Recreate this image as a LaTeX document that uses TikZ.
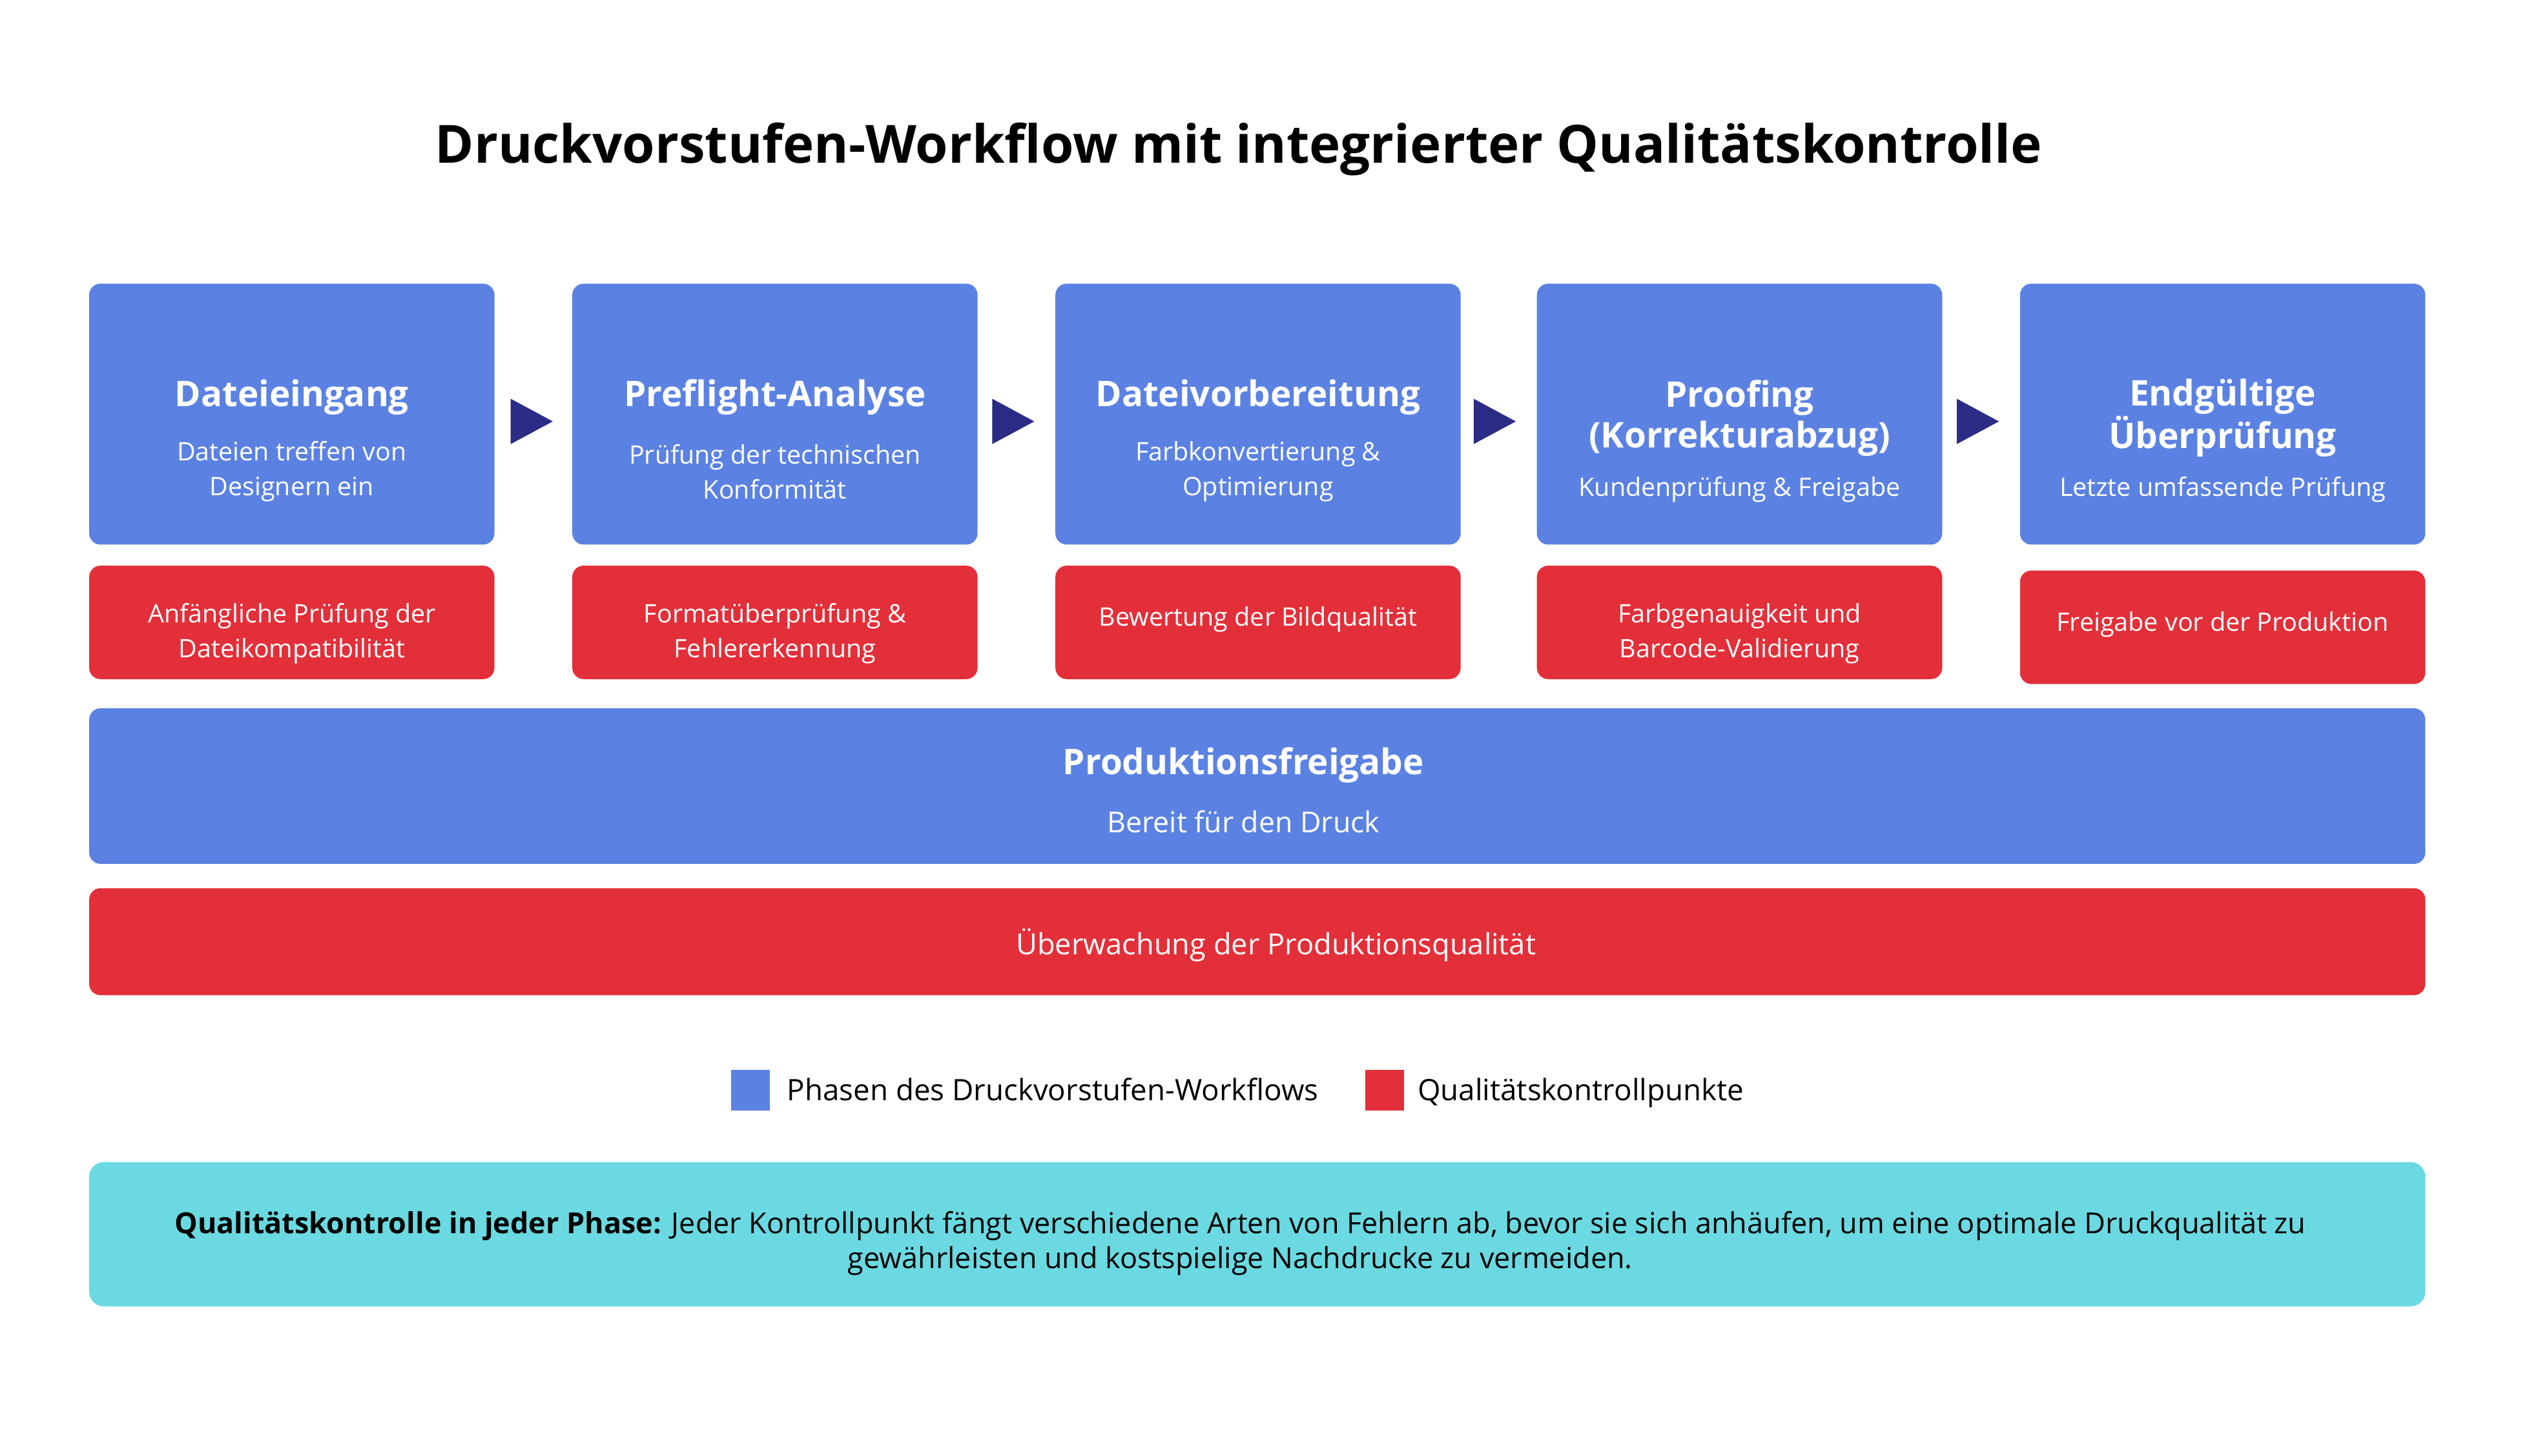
\documentclass[tikz,border=0pt]{standalone}
\usepackage{fontspec}
\setmainfont{Open Sans}
\usetikzlibrary{positioning}
\definecolor{bl}{HTML}{5B82E2}
\definecolor{rd}{HTML}{E32F39}
\definecolor{cy}{HTML}{6BD9E1}
\definecolor{nv}{HTML}{2B2C86}
\tikzset{
 phase/.style={fill=bl,rounded corners=7pt,draw=none},
 qc/.style={fill=rd,rounded corners=7pt,draw=none},
 ttl/.style={text=white,font=\fontsize{21.8}{25}\selectfont\bfseries,align=center},
 sub/.style={text=white,font=\fontsize{15.7}{21.5}\selectfont,align=center},
 arr/.style={fill=nv,draw=none},
}
\begin{document}
\begin{tikzpicture}[x=1pt,y=-1pt]
\useasboundingbox (0,0) rectangle (1568,898);
\node (title) at (764,92) {\fontsize{32.5}{40}\selectfont\bfseries Druckvorstufen-Workflow mit integrierter Qualitätskontrolle};
\foreach \i/\x/\t/\s/\ty/\sy/\q/\qy in {
 1/55/Dateieingang/{Dateien treffen von\\Designern ein}/245/291/{Anfängliche Prüfung der\\Dateikompatibilität}/0,
 2/353/Preflight-Analyse/{Prüfung der technischen\\Konformität}/245/291/{Formatüberprüfung \&\\Fehlererkennung}/0,
 3/651/Dateivorbereitung/{Farbkonvertierung \&\\Optimierung}/245/291/{Bewertung der Bildqualität\\\mbox{}}/0,
 4/948/{Proofing\\(Korrekturabzug)}/{Kundenprüfung \& Freigabe}/258/302/{Farbgenauigkeit und\\Barcode-Validierung}/0,
 5/1246/{Endgültige\\Überprüfung}/{Letzte umfassende Prüfung}/258/302/{Freigabe vor der Produktion\\\mbox{}}/3}{
 \path[phase] (\x,175) rectangle (\x+250,336);
 \node[ttl] (t\i) at (\x+125,\ty) {\t};
 \node[sub] (s\i) at (\x+125,\sy) {\s};
 \path[qc] (\x,349+\qy) rectangle (\x+250,419+\qy);
 \node[sub] (q\i) at (\x+125,391+\qy) {\q};
}
\foreach \x in {315,612,909,1207}{
 \path[arr] (\x,246) -- (\x+26,260) -- (\x,274) -- cycle;
}
\path[phase] (55,437) rectangle (1496,533);
\node[ttl] (prod) at (767,472) {Produktionsfreigabe};
\node[sub,font=\fontsize{17.8}{22}\selectfont] (prods) at (767,507) {Bereit für den Druck};
\path[qc] (55,548) rectangle (1496,614);
\node[sub,font=\fontsize{18}{22}\selectfont] (mon) at (787,583) {Überwachung der Produktionsqualität};
\path[fill=bl] (451,660) rectangle (475,685);
\node[anchor=base west,font=\fontsize{18.2}{22}\selectfont] (l1) at (482,679) {Phasen des Druckvorstufen-Workflows};
\path[fill=rd] (842,660) rectangle (866,685);
\node[anchor=base west,font=\fontsize{18.2}{22}\selectfont] (l2) at (871,679) {Qualitätskontrollpunkte};
\path[fill=cy,rounded corners=9pt] (55,717) rectangle (1496,806);
\node[align=center,font=\fontsize{17.9}{21.5}\selectfont] (note) at (765,767) {\textbf{Qualitätskontrolle in jeder Phase:} Jeder Kontrollpunkt fängt verschiedene Arten von Fehlern ab, bevor sie sich anhäufen, um eine optimale Druckqualität zu\\gewährleisten und kostspielige Nachdrucke zu vermeiden.};
\end{tikzpicture}
\end{document}
